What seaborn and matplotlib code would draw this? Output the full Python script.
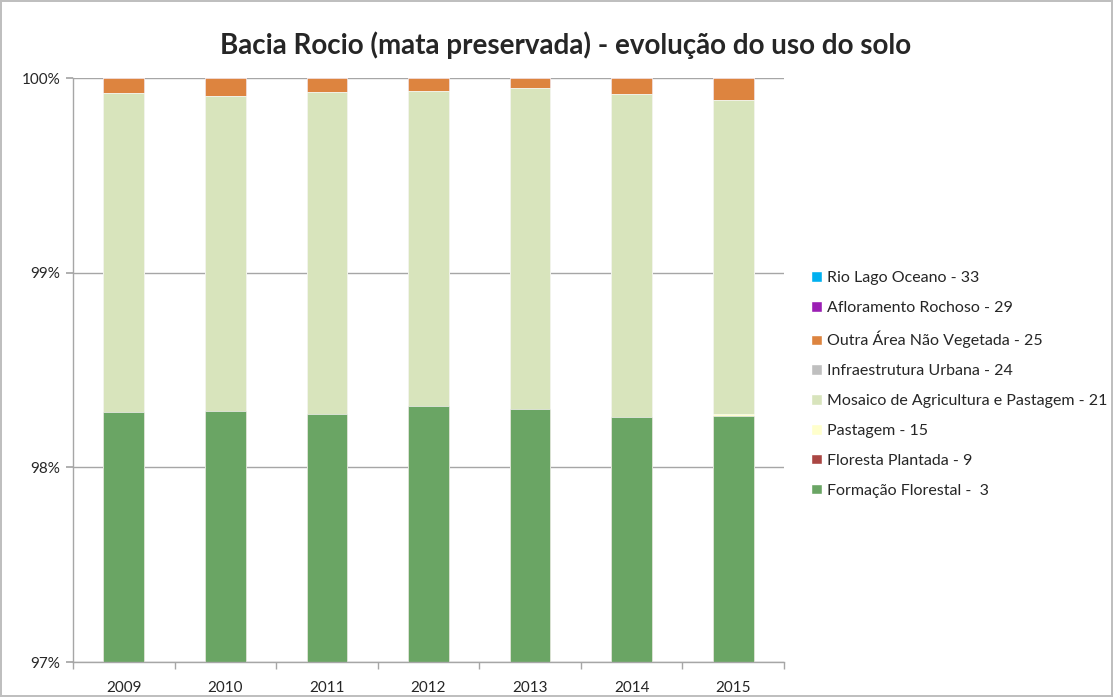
import numpy as np
import pandas as pd
import matplotlib
matplotlib.use("Agg")
import matplotlib.pyplot as plt
import matplotlib.patches as mpatches
import seaborn as sns

years = ["2009", "2010", "2011", "2012", "2013", "2014", "2015"]
formacao_florestal = [98.284, 98.287, 98.274, 98.317, 98.298, 98.260, 98.264]
floresta_plantada = [0.0, 0.0, 0.0, 0.0, 0.0, 0.0, 0.0]
pastagem = [0.0, 0.0, 0.0, 0.0, 0.0, 0.0, 0.012]
outra_area = [0.079, 0.092, 0.072, 0.066, 0.053, 0.084, 0.113]
infraestrutura = [0.0, 0.0, 0.0, 0.0, 0.0, 0.0, 0.0]
afloramento = [0.0, 0.0, 0.0, 0.0, 0.0, 0.0, 0.0]
rio_lago = [0.0, 0.0, 0.0, 0.0, 0.0, 0.0, 0.0]
mosaico = [100 - f - fp - p - o - i - a - r for f, fp, p, o, i, a, r in
           zip(formacao_florestal, floresta_plantada, pastagem, outra_area,
               infraestrutura, afloramento, rio_lago)]

series_names = ["Formação Florestal -  3", "Floresta Plantada - 9", "Pastagem - 15",
                "Mosaico de Agricultura e Pastagem - 21", "Infraestrutura Urbana - 24",
                "Outra Área Não Vegetada - 25", "Afloramento Rochoso - 29", "Rio Lago Oceano - 33"]
series_values = [formacao_florestal, floresta_plantada, pastagem, mosaico,
                 infraestrutura, outra_area, afloramento, rio_lago]
colors = ["#6AA564", "#AA4643", "#FFFFCC", "#D8E4BC", "#BFBFBF", "#DD843F", "#9B1FB4", "#00B0F0"]

sns.set_theme(style="white")
plt.rcParams['font.family'] = ['Lato', 'DejaVu Sans']

fig = plt.figure(figsize=(11.13, 6.97), dpi=100)
fig.patch.set_edgecolor("#BFBFBF")
fig.patch.set_linewidth(1.5)
ax = fig.add_axes([73/1113, 1 - 662/697, (784-73)/1113, (662-78)/697])

cum = np.cumsum(np.array(series_values), axis=0)
# draw from top layer down so each lower layer covers the one above
for i in range(len(series_names) - 1, -1, -1):
    df = pd.DataFrame({"year": years, "value": cum[i]})
    sns.barplot(data=df, x="year", y="value", color=colors[i], ax=ax,
                width=0.4, edgecolor="white", linewidth=0.4, saturation=1)

ax.set_ylim(97, 100)
ax.set_xlim(-0.5, 6.5)
ax.set_yticks([97, 98, 99, 100])
ax.set_yticklabels(["97%", "98%", "99%", "100%"])
ax.yaxis.grid(True, color="#A6A6A6", linewidth=1)
ax.set_axisbelow(True)
ax.set_xlabel("")
ax.set_ylabel("")
for s in ["top", "right"]:
    ax.spines[s].set_visible(False)
for s in ["left", "bottom"]:
    ax.spines[s].set_color("#A6A6A6")
    ax.spines[s].set_linewidth(1)
ax.tick_params(axis="y", which="major", left=True, length=5, color="#A6A6A6", labelsize=11, pad=4)
ax.tick_params(axis="x", which="major", bottom=False, labelsize=11, pad=8)
ax.set_xticks(np.arange(-0.5, 7, 1), minor=True)
ax.tick_params(axis="x", which="minor", bottom=True, length=5, color="#A6A6A6")

fig.text(566 / 1113, 1 - 45/697, "Bacia Rocio (mata preservada) - evolução do uso do solo",
         ha="center", va="center", fontsize=20, fontweight="bold")

handles = [mpatches.Patch(facecolor=colors[i], label=series_names[i]) for i in range(len(series_names) - 1, -1, -1)]
fig.legend(handles=handles, loc="upper left", bbox_to_anchor=(797/1113, 1 - 257/697),
           frameon=False, fontsize=11.5, handlelength=0.65, handleheight=0.65, handletextpad=0.3,
           labelspacing=0.99)

fig.savefig("out.png", dpi=100)
